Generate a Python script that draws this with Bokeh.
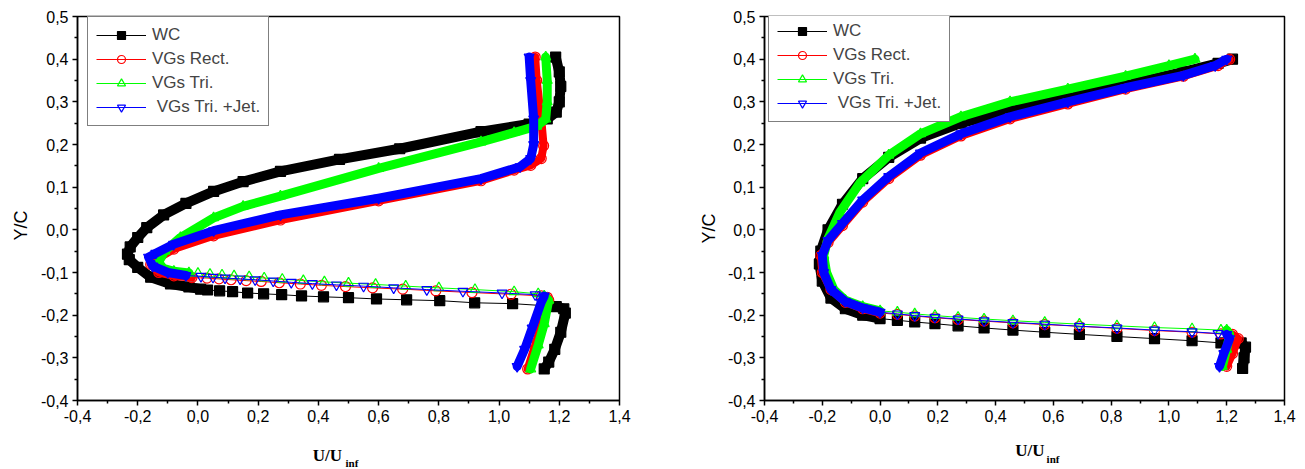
from bokeh.plotting import figure
from bokeh.models import (FixedTicker, CustomJSTickFormatter, Legend,
                          LegendItem, Range1d, Title)
from bokeh.core.properties import value
from bokeh.layouts import row, column
from bokeh.embed import file_html
from bokeh.resources import INLINE

# ---------------- data ----------------
NAMES = ["WC", "VGs Rect.", "VGs Tri.", " VGs Tri. +Jet."]
X_TICKS = [-0.4, -0.2, 0.0, 0.2, 0.4, 0.6, 0.8, 1.0, 1.2, 1.4]
X_MINOR = [-0.3, -0.1, 0.1, 0.3, 0.5, 0.7, 0.9, 1.1, 1.3]
Y_TICKS = [-0.4, -0.3, -0.2, -0.1, 0.0, 0.1, 0.2, 0.3, 0.4, 0.5]
Y_MINOR = [-0.35, -0.25, -0.15, -0.05, 0.05, 0.15, 0.25, 0.35, 0.45]
X_TITLE = "U/U"
X_TITLE_SUB = "inf"
Y_TITLE = "Y/C"

# ---- left panel ----
L_WC_top_u = [1.188, 1.20, 1.205, 1.20, 1.19, 1.16, 1.10, 0.94, 0.67, 0.47, 0.274, 0.15, 0.052, -0.04, -0.114, -0.17, -0.20, -0.225, -0.234, -0.228, -0.20, -0.157, -0.091, -0.03, 0.009]
L_WC_top_y = [0.405, 0.37, 0.336, 0.30, 0.276, 0.26, 0.248, 0.23, 0.19, 0.165, 0.137, 0.113, 0.09, 0.062, 0.035, 0.005, -0.018, -0.04, -0.057, -0.07, -0.088, -0.111, -0.127, -0.134, -0.139]
L_WC_low_u = [0.032, 0.072, 0.115, 0.165, 0.218, 0.278, 0.344, 0.417, 0.500, 0.593, 0.693, 0.803, 0.919, 1.045, 1.155]
L_WC_low_y = [-0.141, -0.143, -0.145, -0.148, -0.150, -0.152, -0.155, -0.157, -0.159, -0.162, -0.164, -0.166, -0.171, -0.173, -0.178]
L_WC_bot_u = [1.19, 1.215, 1.22, 1.205, 1.185, 1.165, 1.15]
L_WC_bot_y = [-0.18, -0.185, -0.195, -0.24, -0.28, -0.31, -0.326]

L_RE_top_u = [1.12, 1.125, 1.135, 1.14, 1.148, 1.14, 1.105, 1.05, 0.94, 0.60, 0.274, 0.052, -0.08, -0.14, -0.157, -0.13, -0.08, -0.02]
L_RE_top_y = [0.405, 0.35, 0.29, 0.26, 0.197, 0.167, 0.151, 0.14, 0.115, 0.068, 0.023, -0.014, -0.045, -0.07, -0.081, -0.10, -0.108, -0.112]
L_RE_low_u = [0.03, 0.07, 0.11, 0.16, 0.21, 0.27, 0.34, 0.41, 0.49, 0.58, 0.68, 0.79, 0.91, 1.04, 1.14]
L_RE_low_y = [-0.113, -0.115, -0.117, -0.119, -0.121, -0.124, -0.127, -0.130, -0.133, -0.136, -0.139, -0.143, -0.147, -0.151, -0.155]
L_RE_bot_u = [1.16, 1.165, 1.15, 1.12, 1.095]
L_RE_bot_y = [-0.158, -0.165, -0.20, -0.27, -0.326]

L_GR_top_u = [1.155, 1.16, 1.16, 1.155, 1.125, 1.05, 0.94, 0.60, 0.274, 0.15, 0.052, -0.058, -0.11, -0.131, -0.115, -0.08, -0.03]
L_GR_top_y = [0.405, 0.35, 0.30, 0.26, 0.243, 0.228, 0.206, 0.144, 0.079, 0.055, 0.028, -0.018, -0.05, -0.076, -0.09, -0.097, -0.101]
L_GR_low_u = [0.0, 0.04, 0.08, 0.12, 0.17, 0.22, 0.28, 0.35, 0.42, 0.50, 0.59, 0.69, 0.80, 0.92, 1.05, 1.13]
L_GR_low_y = [-0.102, -0.104, -0.106, -0.108, -0.110, -0.113, -0.116, -0.119, -0.122, -0.125, -0.128, -0.132, -0.136, -0.140, -0.145, -0.150]
L_GR_bot_u = [1.15, 1.165, 1.15, 1.13, 1.105]
L_GR_bot_y = [-0.155, -0.165, -0.22, -0.27, -0.326]

L_BL_top_u = [1.10, 1.105, 1.115, 1.115, 1.105, 1.07, 0.94, 0.60, 0.274, 0.052, -0.081, -0.14, -0.164, -0.15, -0.10, -0.04]
L_BL_top_y = [0.405, 0.35, 0.26, 0.20, 0.167, 0.148, 0.12, 0.074, 0.035, -0.002, -0.034, -0.055, -0.064, -0.085, -0.10, -0.107]
L_BL_low_u = [0.01, 0.05, 0.09, 0.14, 0.19, 0.25, 0.31, 0.38, 0.46, 0.55, 0.65, 0.76, 0.88, 1.01, 1.12]
L_BL_low_y = [-0.109, -0.111, -0.113, -0.115, -0.117, -0.120, -0.123, -0.126, -0.129, -0.132, -0.136, -0.140, -0.144, -0.148, -0.152]
L_BL_bot_u = [1.15, 1.14, 1.11, 1.085, 1.06]
L_BL_bot_y = [-0.155, -0.17, -0.23, -0.28, -0.32]

# ---- right panel ----
R_WC_top_u = [1.22, 1.17, 1.05, 0.85, 0.65, 0.45, 0.28, 0.14, 0.03, -0.06, -0.13, -0.18, -0.205, -0.21, -0.20, -0.17, -0.12, -0.06, 0.0]
R_WC_top_y = [0.40, 0.39, 0.37, 0.34, 0.31, 0.28, 0.25, 0.215, 0.17, 0.12, 0.06, 0.0, -0.05, -0.08, -0.12, -0.16, -0.185, -0.20, -0.208]
R_WC_low_u = [0.06, 0.12, 0.19, 0.27, 0.36, 0.46, 0.57, 0.69, 0.82, 0.95, 1.08, 1.18]
R_WC_low_y = [-0.212, -0.216, -0.220, -0.225, -0.230, -0.235, -0.240, -0.245, -0.250, -0.255, -0.260, -0.265]
R_WC_bot_u = [1.22, 1.25, 1.265, 1.26, 1.255]
R_WC_bot_y = [-0.262, -0.265, -0.275, -0.30, -0.325]

R_RE_top_u = [1.21, 1.17, 1.05, 0.85, 0.65, 0.45, 0.28, 0.14, 0.03, -0.06, -0.13, -0.18, -0.205, -0.20, -0.17, -0.12, -0.06, 0.0]
R_RE_top_y = [0.40, 0.385, 0.36, 0.33, 0.295, 0.26, 0.22, 0.175, 0.12, 0.065, 0.01, -0.03, -0.06, -0.10, -0.14, -0.17, -0.185, -0.195]
R_RE_low_u = [0.06, 0.12, 0.19, 0.27, 0.36, 0.46, 0.57, 0.69, 0.82, 0.95, 1.08, 1.18]
R_RE_low_y = [-0.198, -0.202, -0.206, -0.210, -0.214, -0.218, -0.222, -0.226, -0.231, -0.236, -0.240, -0.244]
R_RE_bot_u = [1.22, 1.24, 1.22, 1.20]
R_RE_bot_y = [-0.245, -0.255, -0.29, -0.32]

R_GR_top_u = [1.09, 1.0, 0.85, 0.65, 0.45, 0.28, 0.14, 0.03, -0.07, -0.14, -0.18, -0.195, -0.185, -0.16, -0.12, -0.06, 0.0]
R_GR_top_y = [0.40, 0.385, 0.36, 0.33, 0.30, 0.265, 0.225, 0.175, 0.11, 0.04, -0.02, -0.06, -0.10, -0.14, -0.165, -0.18, -0.19]
R_GR_low_u = [0.06, 0.12, 0.19, 0.27, 0.36, 0.46, 0.57, 0.69, 0.82, 0.95, 1.08, 1.18]
R_GR_low_y = [-0.193, -0.197, -0.201, -0.205, -0.209, -0.213, -0.217, -0.221, -0.225, -0.229, -0.232, -0.235]
R_GR_bot_u = [1.20, 1.21, 1.20, 1.185]
R_GR_bot_y = [-0.235, -0.245, -0.28, -0.32]

R_BL_top_u = [1.20, 1.16, 1.05, 0.85, 0.65, 0.45, 0.28, 0.14, 0.03, -0.06, -0.13, -0.18, -0.20, -0.195, -0.17, -0.12, -0.06, 0.0]
R_BL_top_y = [0.40, 0.385, 0.362, 0.333, 0.30, 0.265, 0.225, 0.18, 0.125, 0.07, 0.015, -0.025, -0.06, -0.10, -0.14, -0.168, -0.183, -0.193]
R_BL_low_u = [0.06, 0.12, 0.19, 0.27, 0.36, 0.46, 0.57, 0.69, 0.82, 0.95, 1.08, 1.17]
R_BL_low_y = [-0.197, -0.201, -0.205, -0.209, -0.213, -0.217, -0.221, -0.226, -0.230, -0.235, -0.239, -0.243]
R_BL_bot_u = [1.20, 1.21, 1.19, 1.175]
R_BL_bot_y = [-0.245, -0.255, -0.29, -0.32]

LEFT = [
    (L_WC_top_u, L_WC_top_y, L_WC_low_u, L_WC_low_y, L_WC_bot_u, L_WC_bot_y),
    (L_RE_top_u, L_RE_top_y, L_RE_low_u, L_RE_low_y, L_RE_bot_u, L_RE_bot_y),
    (L_GR_top_u, L_GR_top_y, L_GR_low_u, L_GR_low_y, L_GR_bot_u, L_GR_bot_y),
    (L_BL_top_u, L_BL_top_y, L_BL_low_u, L_BL_low_y, L_BL_bot_u, L_BL_bot_y),
]
RIGHT = [
    (R_WC_top_u, R_WC_top_y, R_WC_low_u, R_WC_low_y, R_WC_bot_u, R_WC_bot_y),
    (R_RE_top_u, R_RE_top_y, R_RE_low_u, R_RE_low_y, R_RE_bot_u, R_RE_bot_y),
    (R_GR_top_u, R_GR_top_y, R_GR_low_u, R_GR_low_y, R_GR_bot_u, R_GR_bot_y),
    (R_BL_top_u, R_BL_top_y, R_BL_low_u, R_BL_low_y, R_BL_bot_u, R_BL_bot_y),
]

# ---------------- styles ----------------
COLORS = ["black", "#ff0000", "#00ff00", "#0000ff"]
MARKERS = ["square", "circle", "triangle", "inverted_triangle"]
BAND_W = [10, 8, 9, 9]
FONT = "Liberation Sans"
MAIN_H = 435
STRIP_H = 469 - MAIN_H

fmt = CustomJSTickFormatter(code="return tick.toFixed(1).replace('.', ',');")


def build(series, width, bl, br, frame_h, legend_xy, ytitle_offset, ytitle_standoff):
    bb = MAIN_H - 16 - frame_h
    p = figure(width=width, height=MAIN_H,
               x_range=Range1d(-0.4, 1.4), y_range=Range1d(-0.4, 0.5),
               output_backend="svg", toolbar_location=None,
               min_border_left=bl, min_border_top=16, min_border_right=br,
               min_border_bottom=bb)
    p.grid.visible = False
    p.background_fill_color = "white"
    p.outline_line_color = "black"
    p.outline_line_width = 1.5

    p.xaxis.ticker = FixedTicker(ticks=X_TICKS, minor_ticks=X_MINOR)
    p.yaxis.ticker = FixedTicker(ticks=Y_TICKS, minor_ticks=Y_MINOR)
    for ax in (p.xaxis[0], p.yaxis[0]):
        ax.formatter = fmt
        ax.axis_line_width = 1.5
        ax.major_tick_in = 0
        ax.major_tick_out = 5
        ax.minor_tick_in = 0
        ax.minor_tick_out = 3
        ax.major_tick_line_width = 1.5
        ax.minor_tick_line_width = 1.5
        ax.major_label_text_font = FONT
        ax.major_label_text_font_size = "16px"
        ax.major_label_text_color = "black"
        ax.major_label_standoff = 4

    yt = Title(text=Y_TITLE, align="left", offset=ytitle_offset,
               standoff=ytitle_standoff, text_font=FONT, text_font_size="18px",
               text_font_style="normal", text_color="black")
    p.add_layout(yt, "left")

    items = []
    for i, (tu, ty, lu, ly, bu, by) in enumerate(series):
        c = COLORS[i]
        all_u = tu + lu + bu
        all_y = ty + ly + by
        p.line(tu, ty, line_color=c, line_width=BAND_W[i], line_join="round", line_cap="round")
        p.line(bu, by, line_color=c, line_width=BAND_W[i], line_join="round", line_cap="round")
        ln = p.line(all_u, all_y, line_color=c, line_width=1)
        sc = p.scatter(all_u, all_y, marker=MARKERS[i], size=10, line_color=c,
                       fill_color=(c if i == 0 else None), line_width=1.2)
        items.append(LegendItem(label=NAMES[i], renderers=[ln, sc]))

    leg = Legend(items=items, location=legend_xy)
    leg.label_text_font = FONT
    leg.label_text_font_size = "17px"
    leg.glyph_width = 50
    leg.glyph_height = 20
    leg.label_height = 20
    leg.label_standoff = 6
    leg.spacing = 4
    leg.padding = 8
    leg.margin = 0
    leg.border_line_color = "black"
    leg.border_line_width = 1
    leg.background_fill_alpha = 1
    p.add_layout(leg)
    return p


def strip(main, width, bl, br, title_xy, sub_xy):
    s = figure(width=width, height=STRIP_H, x_range=main.x_range,
               y_range=Range1d(0, 1), output_backend="svg", toolbar_location=None,
               min_border_left=bl, min_border_right=br, min_border_top=0,
               min_border_bottom=0)
    s.axis.visible = False
    s.grid.visible = False
    s.outline_line_color = None
    s.text(x=[title_xy[0]], y=[title_xy[1]], text=[X_TITLE],
           text_font=value("Liberation Serif"), text_font_style="bold",
           text_font_size="17px", text_align="center", text_baseline="middle",
           text_color="black")
    s.text(x=[sub_xy[0]], y=[sub_xy[1]], text=[X_TITLE_SUB],
           text_font=value("Liberation Serif"), text_font_style="bold",
           text_font_size="11px", text_align="left", text_baseline="middle",
           text_color="black")
    return s


p1 = build(LEFT, 690, 77, 71, 389, (10, 274), 160, 14)
p2 = build(RIGHT, 615, 73, 21, 384, (4, 278), 157, 12)
s1 = strip(p1, 690, 77, 71, (0.43, 0.42), (0.49, 0.18))
s2 = strip(p2, 615, 73, 21, (0.52, 0.56), (0.578, 0.30))

layout = column(row(p1, p2), row(s1, s2))
open("out.html", "w").write(file_html(layout, INLINE))
